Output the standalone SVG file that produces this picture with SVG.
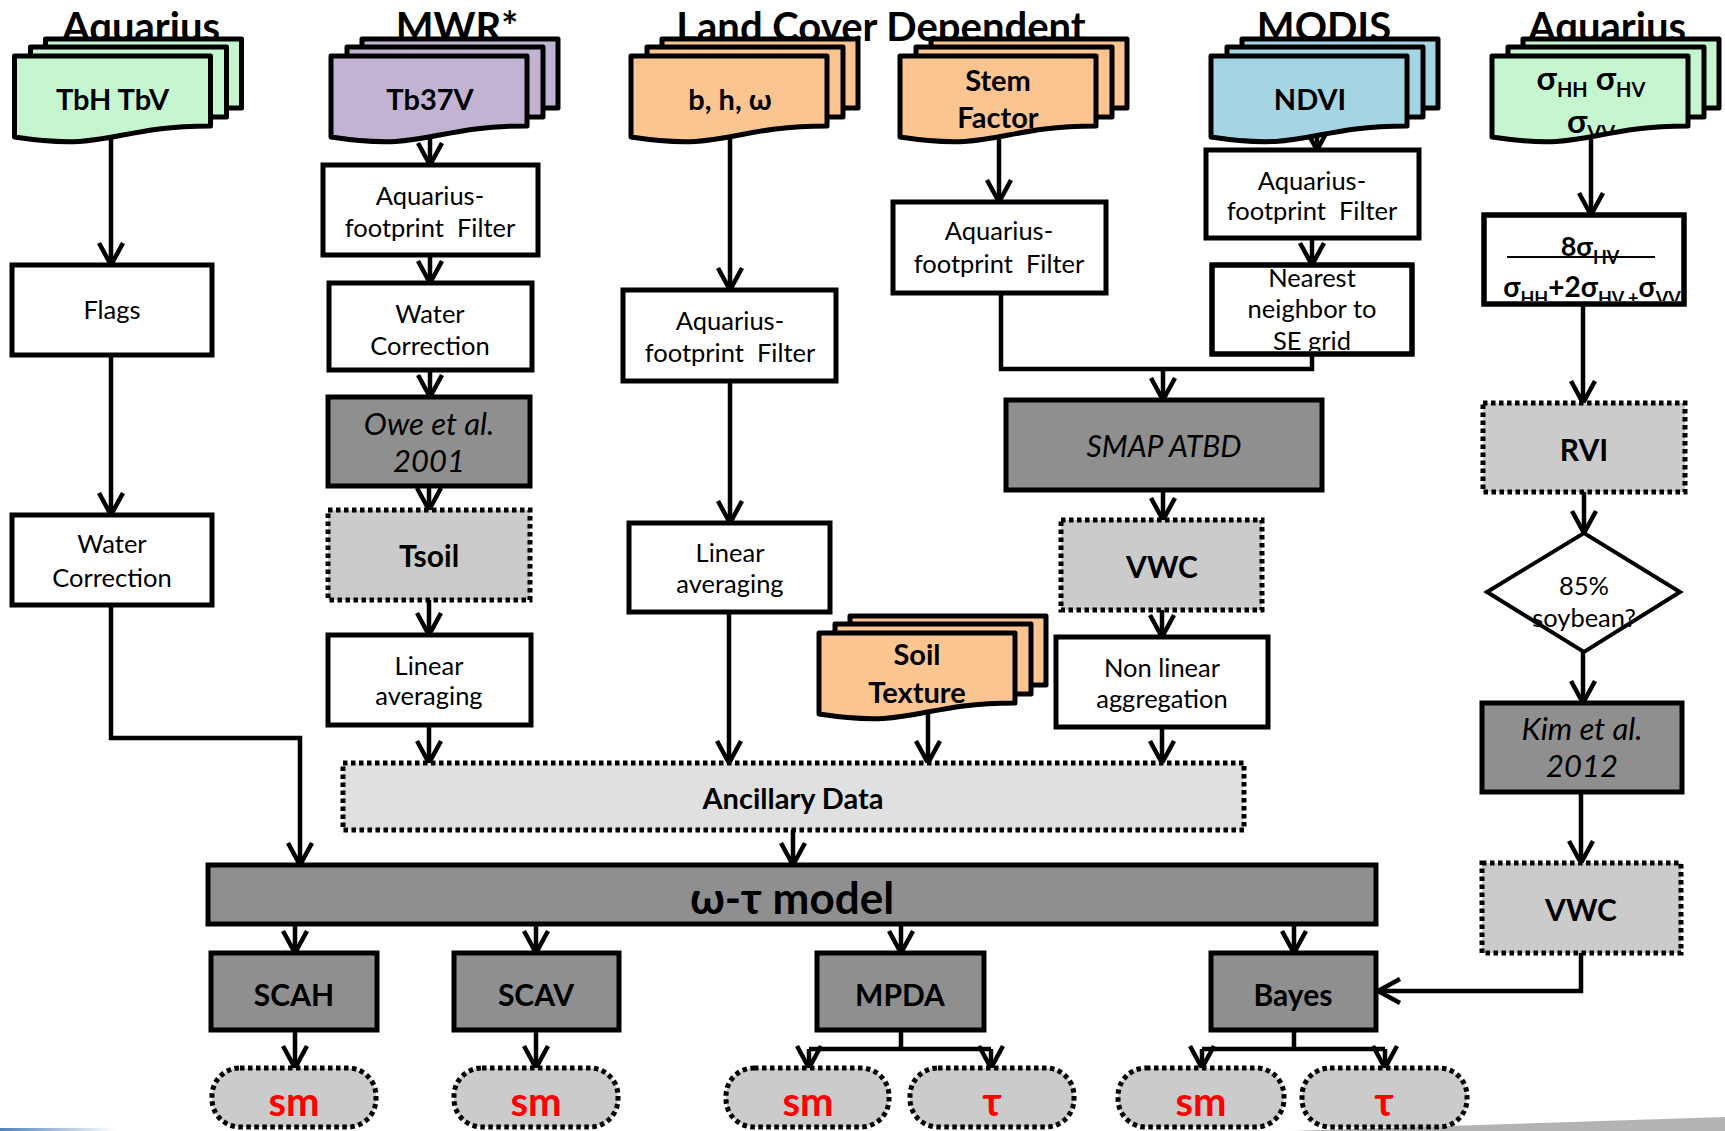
<svg xmlns="http://www.w3.org/2000/svg" xmlns:xlink="http://www.w3.org/1999/xlink" width="1725" height="1131" viewBox="0 0 1725 1131">
<style>
text{font-family:Lato,"Noto Sans","DejaVu Sans",sans-serif;fill:#000;text-anchor:middle}
.title{font-size:40px;font-weight:bold}
.lbl{font-size:25.5px}
.it{font-size:31px;font-style:italic}
.bd{font-size:30px;font-weight:bold}
.dl{font-size:29px;font-weight:bold}
.out{font-size:40px;font-weight:bold;fill:#ff0000}
.box{fill:#fff;stroke:#000;stroke-width:5}
.dark{fill:#8f8f8f;stroke:#000;stroke-width:5}
.dot{fill:#cbcbcb;stroke:#000;stroke-width:5;stroke-dasharray:4.5 3.5}
.doc{stroke:#000;stroke-width:5;stroke-linejoin:round}
.g{fill:#c6f6d0}.p{fill:#c3b3d3}.o{fill:#fbc592}.b{fill:#a5d5e2}
.ln{fill:none;stroke:#000;stroke-width:4.5}
.ar{marker-end:url(#arr)}
</style>
<defs>
<marker id="arr" markerUnits="userSpaceOnUse" orient="auto" overflow="visible" markerWidth="30" markerHeight="30" refX="0" refY="0">
<path d="M-22,-12 L0,0 L-22,12" fill="none" stroke="#000" stroke-width="4.5" stroke-linejoin="miter"/>
</marker>
<path id="docF" d="M0,0 H196 V70 C98,70 98,96 0,81 Z"/>
<g id="docBack">
<rect x="31" y="-17" width="196" height="69"/>
<rect x="16" y="-9" width="196" height="70"/>
</g>
<clipPath id="docClip"><use xlink:href="#docF"/></clipPath>
<clipPath id="nearClip"><rect x="1214" y="267" width="196" height="84"/></clipPath>
<clipPath id="formClip"><rect x="1486" y="217" width="196" height="84"/></clipPath>
<linearGradient id="blueLine" x1="0" x2="1" y1="0" y2="0">
<stop offset="0" stop-color="#4f81bd"/><stop offset="1" stop-color="#4f81bd" stop-opacity="0"/>
</linearGradient>
</defs>
<rect width="1725" height="1131" fill="#fff"/>
<polygon points="1290,1131 1725,1117 1725,1131" fill="#b3b3b3"/>
<rect x="0" y="1128" width="115" height="3" fill="url(#blueLine)"/>

<g id="titles">
<text class="title" x="141" y="41">Aquarius</text>
<text class="title" x="457" y="41">MWR*</text>
<text class="title" x="881" y="41">Land Cover Dependent</text>
<text class="title" x="1324" y="41">MODIS</text>
<text class="title" x="1607" y="41">Aquarius</text>
</g>

<g id="connectors">
<path class="ln ar" d="M111,135 V265"/>
<path class="ln ar" d="M111,355 V515"/>
<path class="ln ar" d="M111,605 V738 H300 V865"/>
<path class="ln ar" d="M430,135 V165"/>
<path class="ln ar" d="M430,255 V283"/>
<path class="ln ar" d="M430,370 V397"/>
<path class="ln ar" d="M429,486 V510"/>
<path class="ln ar" d="M429,600 V635"/>
<path class="ln ar" d="M429,725 V763"/>
<path class="ln ar" d="M730,135 V290"/>
<path class="ln ar" d="M730,381 V523"/>
<path class="ln ar" d="M729,612 V763"/>
<path class="ln ar" d="M999,130 V202"/>
<path class="ln" d="M1001,293 V369 H1312 V354"/>
<path class="ln ar" d="M1163,369 V400"/>
<path class="ln ar" d="M1317,135 V150"/>
<path class="ln ar" d="M1312,238 V265"/>
<path class="ln ar" d="M1163,490 V520"/>
<path class="ln ar" d="M1162,610 V637"/>
<path class="ln ar" d="M1162,727 V763"/>
<path class="ln ar" d="M928,705 V763"/>
<path class="ln ar" d="M1591,130 V215"/>
<path class="ln ar" d="M1583,304 V403"/>
<path class="ln ar" d="M1584,492 V533"/>
<path class="ln ar" d="M1583,652 V703"/>
<path class="ln ar" d="M1581,792 V863"/>
<path class="ln ar" d="M1581,953 V991 H1378"/>
<path class="ln ar" d="M793,830 V865"/>
<path class="ln ar" d="M295,924 V953"/>
<path class="ln ar" d="M536,924 V953"/>
<path class="ln ar" d="M901,924 V953"/>
<path class="ln ar" d="M1294,924 V953"/>
<path class="ln ar" d="M295,1030 V1068"/>
<path class="ln ar" d="M536,1030 V1068"/>
<path class="ln" d="M901,1030 V1049 M809,1049 H991 M1202,1049 H1385 M1294,1030 V1049"/>
<path class="ln ar" d="M809,1049 V1068"/>
<path class="ln ar" d="M991,1049 V1068"/>
<path class="ln ar" d="M1202,1049 V1068"/>
<path class="ln ar" d="M1385,1049 V1068"/>
</g>

<g id="doc-tb" transform="translate(14.5,56)">
<use xlink:href="#docBack" class="doc g"/><use xlink:href="#docF" class="doc g"/>
<text class="dl" x="98" y="54" clip-path="url(#docClip)">TbH TbV</text>
</g>
<g id="doc-tb37" transform="translate(331,56)">
<use xlink:href="#docBack" class="doc p"/><use xlink:href="#docF" class="doc p"/>
<text class="dl" x="99" y="54" clip-path="url(#docClip)">Tb37V</text>
</g>
<g id="doc-bhw" transform="translate(631,56)">
<use xlink:href="#docBack" class="doc o"/><use xlink:href="#docF" class="doc o"/>
<text class="dl" x="99" y="54" clip-path="url(#docClip)">b, h, ω</text>
</g>
<g id="doc-stem" transform="translate(900,56)">
<use xlink:href="#docBack" class="doc o"/><use xlink:href="#docF" class="doc o"/>
<text class="dl" x="98" y="35" clip-path="url(#docClip)">Stem</text>
<text class="dl" x="98" y="72" clip-path="url(#docClip)">Factor</text>
</g>
<g id="doc-ndvi" transform="translate(1211,56)">
<use xlink:href="#docBack" class="doc b"/><use xlink:href="#docF" class="doc b"/>
<text class="dl" x="99" y="54" clip-path="url(#docClip)">NDVI</text>
</g>
<g id="doc-sigma" transform="translate(1492,56)">
<use xlink:href="#docBack" class="doc g"/><use xlink:href="#docF" class="doc g"/>
<text class="dl" x="99" y="34" clip-path="url(#docClip)" style="font-size:33px">σ<tspan dy="7" style="font-size:20px">HH</tspan><tspan dy="-7"> σ</tspan><tspan dy="7" style="font-size:20px">HV</tspan></text>
<text class="dl" x="99" y="77" clip-path="url(#docClip)" style="font-size:33px">σ<tspan dy="7" style="font-size:20px">VV</tspan></text>
</g>
<g id="doc-soil" transform="translate(819,633)">
<use xlink:href="#docBack" class="doc o"/><use xlink:href="#docF" class="doc o"/>
<text class="dl" x="98" y="32" clip-path="url(#docClip)">Soil</text>
<text class="dl" x="98" y="70" clip-path="url(#docClip)">Texture</text>
</g>

<g id="flags"><rect class="box" x="12" y="265" width="200" height="90"/><text class="lbl" x="112" y="319">Flags</text></g>
<g id="water-corr-1"><rect class="box" x="12" y="515" width="200" height="90"/><text class="lbl" x="112" y="553">Water</text><text class="lbl" x="112" y="587">Correction</text></g>

<g id="mwr-filter"><rect class="box" x="323" y="165" width="215" height="90"/><text class="lbl" x="430" y="205">Aquarius-</text><text class="lbl" x="430" y="237" xml:space="preserve">footprint  Filter</text></g>
<g id="water-corr-2"><rect class="box" x="329" y="283" width="203" height="87"/><text class="lbl" x="430" y="323">Water</text><text class="lbl" x="430" y="355">Correction</text></g>
<g id="owe"><rect class="dark" x="328" y="397" width="202" height="89"/><text class="it" x="429" y="435">Owe et al.</text><text class="it" x="429" y="472">2001</text></g>
<g id="tsoil"><rect class="dot" x="328" y="510" width="202" height="90"/><text class="bd" x="429" y="567">Tsoil</text></g>
<g id="lin-avg-1"><rect class="box" x="328" y="635" width="203" height="90"/><text class="lbl" x="429" y="675">Linear</text><text class="lbl" x="429" y="705">averaging</text></g>

<g id="bhw-filter"><rect class="box" x="623" y="290" width="213" height="91"/><text class="lbl" x="730" y="330">Aquarius-</text><text class="lbl" x="730" y="362" xml:space="preserve">footprint  Filter</text></g>
<g id="lin-avg-2"><rect class="box" x="629" y="523" width="201" height="89"/><text class="lbl" x="730" y="562">Linear</text><text class="lbl" x="730" y="593">averaging</text></g>

<g id="stem-filter"><rect class="box" x="893" y="202" width="213" height="91"/><text class="lbl" x="999" y="240">Aquarius-</text><text class="lbl" x="999" y="273" xml:space="preserve">footprint  Filter</text></g>
<g id="smap"><rect class="dark" x="1006" y="400" width="316" height="90"/><text class="it" x="1164" y="457" style="font-size:30px">SMAP ATBD</text></g>
<g id="vwc-1"><rect class="dot" x="1061" y="520" width="201" height="90"/><text class="bd" x="1162" y="578">VWC</text></g>
<g id="nonlin"><rect class="box" x="1056" y="637" width="212" height="90"/><text class="lbl" x="1162" y="677">Non linear</text><text class="lbl" x="1162" y="708">aggregation</text></g>

<g id="ndvi-filter"><rect class="box" x="1206" y="150" width="213" height="88"/><text class="lbl" x="1312" y="190">Aquarius-</text><text class="lbl" x="1312" y="220" xml:space="preserve">footprint  Filter</text></g>
<g id="nearest"><rect class="box" x="1212" y="265" width="200" height="89"/>
<g clip-path="url(#nearClip)"><text class="lbl" x="1312" y="287">Nearest</text><text class="lbl" x="1312" y="318">neighbor to</text><text class="lbl" x="1312" y="350">SE grid</text></g>
<rect x="1212" y="265" width="200" height="89" fill="none" stroke="#000" stroke-width="5"/></g>

<g id="rvi-formula"><rect class="box" x="1484" y="215" width="200" height="89"/>
<g clip-path="url(#formClip)">
<text class="dl" x="1590" y="256" style="font-size:27px">8σ<tspan dy="8" style="font-size:18px">HV</tspan></text>
<text class="dl" x="1592" y="297" style="font-size:28px">σ<tspan dy="8" style="font-size:18px">HH</tspan><tspan dy="-8">+2σ</tspan><tspan dy="8" style="font-size:18px">HV +</tspan><tspan dy="-8">σ</tspan><tspan dy="8" style="font-size:18px">VV</tspan></text>
</g>
<path d="M1507,257 H1655" stroke="#000" stroke-width="2"/>
<rect x="1484" y="215" width="200" height="89" fill="none" stroke="#000" stroke-width="5"/></g>
<g id="rvi"><rect class="dot" x="1483" y="403" width="202" height="89"/><text class="bd" x="1584" y="461">RVI</text></g>
<g id="soybean"><polygon points="1487,592 1584,533 1680,592 1584,652" fill="#fff" stroke="#000" stroke-width="4"/><text class="lbl" x="1584" y="595">85%</text><text class="lbl" x="1584" y="627">soybean?</text></g>
<g id="kim"><rect class="dark" x="1482" y="703" width="200" height="89"/><text class="it" x="1582" y="740">Kim et al.</text><text class="it" x="1582" y="777">2012</text></g>
<g id="vwc-2"><rect class="dot" x="1482" y="863" width="199" height="90"/><text class="bd" x="1581" y="921">VWC</text></g>

<g id="ancillary"><rect x="343" y="763" width="901" height="67" fill="#e0e0e0" stroke="#000" stroke-width="5" stroke-dasharray="4.5 3.5"/><text class="bd" x="793" y="809" style="font-size:29px">Ancillary Data</text></g>
<g id="wt-model"><rect class="dark" x="208" y="865" width="1168" height="59"/><text x="792" y="914" style="font-size:44px;font-weight:bold">ω-τ model</text></g>

<g id="scah"><rect class="dark" x="211" y="953" width="166" height="77"/><text class="bd" x="294" y="1006">SCAH</text></g>
<g id="scav"><rect class="dark" x="454" y="953" width="165" height="77"/><text class="bd" x="536" y="1006">SCAV</text></g>
<g id="mpda"><rect class="dark" x="817" y="953" width="167" height="77"/><text class="bd" x="900" y="1006">MPDA</text></g>
<g id="bayes"><rect class="dark" x="1211" y="953" width="165" height="77"/><text class="bd" x="1293" y="1006">Bayes</text></g>

<g id="out-scah-sm"><rect class="dot" x="212" y="1068" width="164" height="59" rx="28"/><text class="out" x="294" y="1116">sm</text></g>
<g id="out-scav-sm"><rect class="dot" x="454" y="1068" width="164" height="59" rx="28"/><text class="out" x="536" y="1116">sm</text></g>
<g id="out-mpda-sm"><rect class="dot" x="726" y="1068" width="163" height="59" rx="28"/><text class="out" x="808" y="1116">sm</text></g>
<g id="out-mpda-tau"><rect class="dot" x="910" y="1068" width="164" height="59" rx="28"/><text class="out" x="992" y="1116">τ</text></g>
<g id="out-bayes-sm"><rect class="dot" x="1118" y="1068" width="166" height="59" rx="28"/><text class="out" x="1201" y="1116">sm</text></g>
<g id="out-bayes-tau"><rect class="dot" x="1302" y="1068" width="165" height="59" rx="28"/><text class="out" x="1384" y="1116">τ</text></g>
</svg>
